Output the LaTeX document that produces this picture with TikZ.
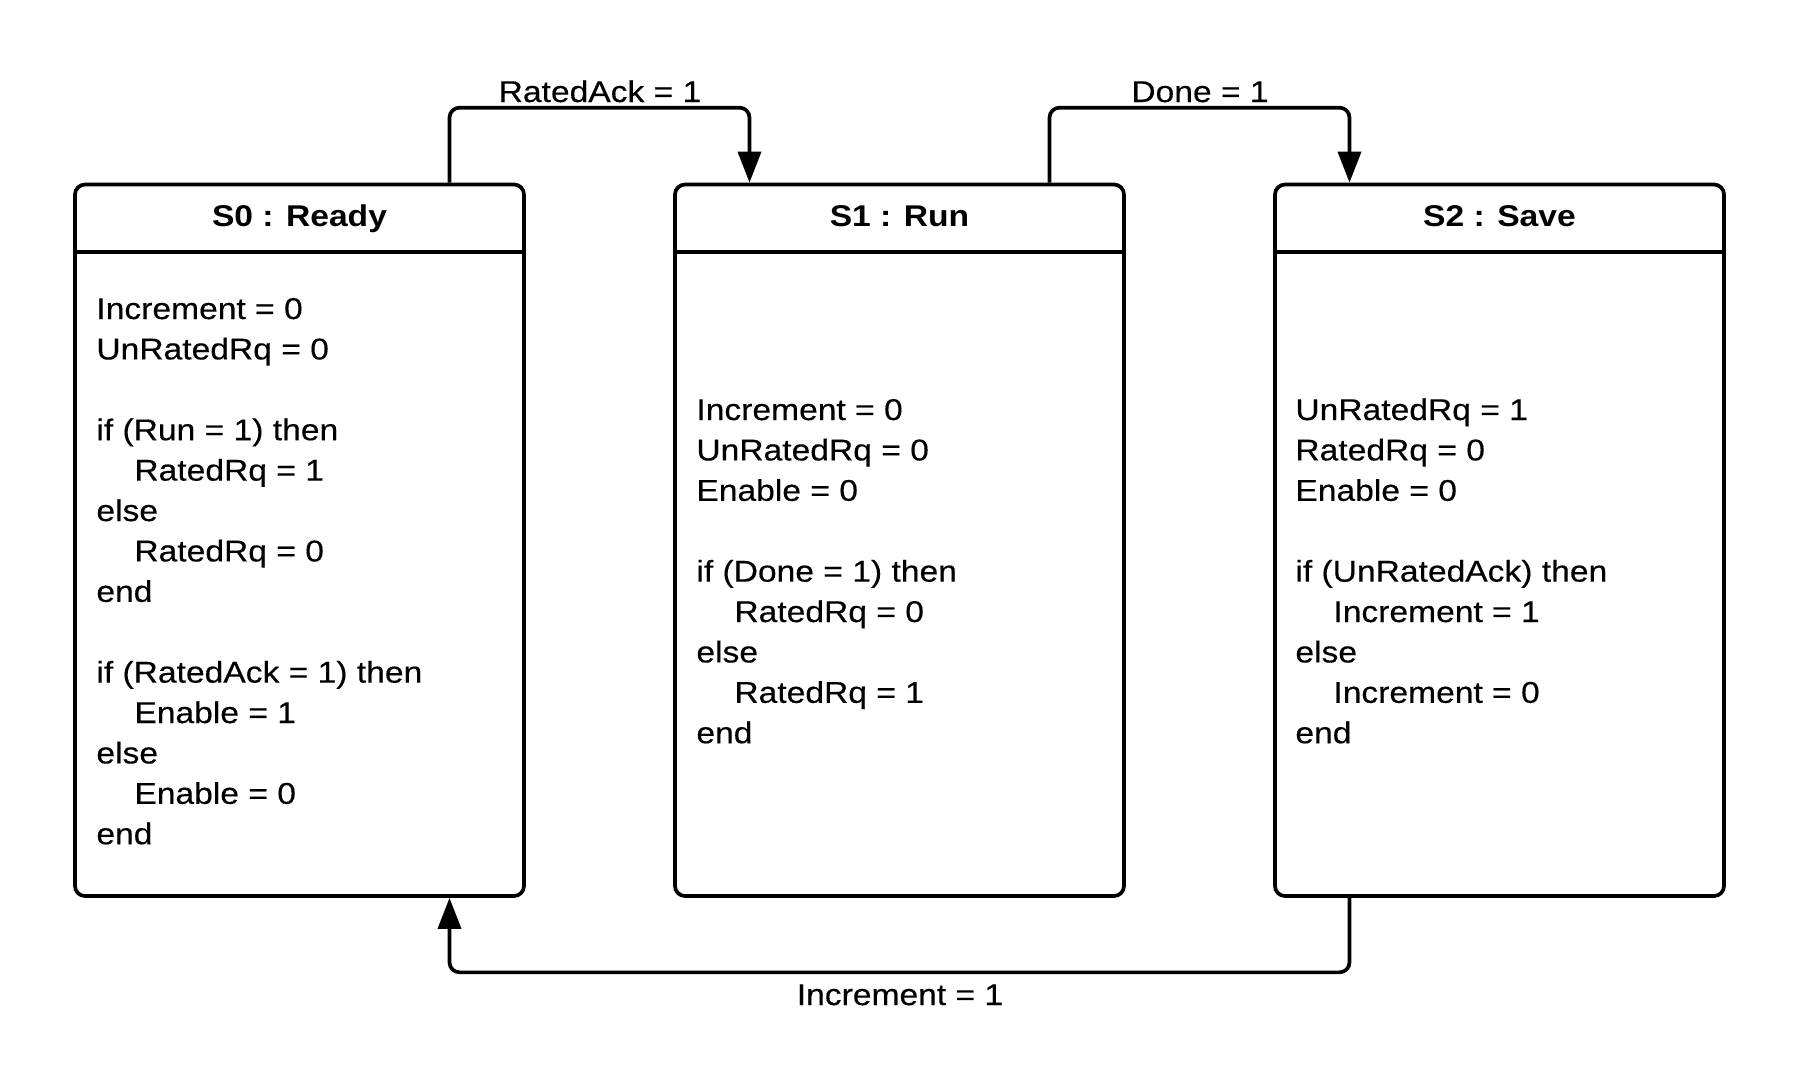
\documentclass[tikz,border=0pt]{standalone}
\usepackage{fontspec}
\setmainfont{Liberation Sans}[FakeStretch=1.12, UprightFeatures={FakeBold=0.35}]
\usetikzlibrary{arrows.meta}
\tikzset{
  statebox/.style={draw, line width=1.85pt, rounded corners=5pt, rectangle,
    minimum width=224.5pt, minimum height=355.75pt, inner sep=0pt},
  sep/.style={line width=1.85pt},
  ttl/.style={anchor=base, inner sep=0pt, font=\fontsize{15pt}{20.2pt}\selectfont\bfseries},
  body/.style={anchor=base west, inner sep=0pt, font=\fontsize{15pt}{20.2pt}\selectfont},
  lbl/.style={anchor=base, inner sep=0pt, font=\fontsize{15pt}{20.2pt}\selectfont},
  conn/.style={line width=1.85pt, rounded corners=5pt, -{Triangle[length=15.5pt,width=11.5pt]}}
}
\newcommand{\ind}{\hspace*{19pt}}
\begin{document}
\begin{tikzpicture}[x=0.5pt,y=-0.5pt]
\useasboundingbox (0,0) rectangle (1800,1082);
% states
\node[statebox] (s0) at (299.5,540.25) {};
\node[statebox] (s1) at (899.5,540.25) {};
\node[statebox] (s2) at (1499.5,540.25) {};
\foreach \s in {s0,s1,s2}{
  \draw[sep] ([yshift=-34.5pt]\s.north west) -- ([yshift=-34.5pt]\s.north east);
}
% titles
\node[ttl] (t0) at (299.5,226) {S0 : Ready};
\node[ttl] (t1) at (899.5,226) {S1 : Run};
\node[ttl] (t2) at (1499.5,226) {S2 : Save};
% bodies
\node[body] (b0) at (96,319) {\begin{tabular}[t]{@{}l@{}}
Increment = 0\\
UnRatedRq = 0\\
\\
if (Run = 1) then\\
\ind RatedRq = 1\\
else\\
\ind RatedRq = 0\\
end\\
\\
if (RatedAck = 1) then\\
\ind Enable = 1\\
else\\
\ind Enable = 0\\
end
\end{tabular}};
\node[body] (b1) at (696,420) {\begin{tabular}[t]{@{}l@{}}
Increment = 0\\
UnRatedRq = 0\\
Enable = 0\\
\\
if (Done = 1) then\\
\ind RatedRq = 0\\
else\\
\ind RatedRq = 1\\
end
\end{tabular}};
\node[body] (b2) at (1295,420) {\begin{tabular}[t]{@{}l@{}}
UnRatedRq = 1\\
RatedRq = 0\\
Enable = 0\\
\\
if (UnRatedAck) then\\
\ind Increment = 1\\
else\\
\ind Increment = 0\\
end
\end{tabular}};
% transitions
\draw[conn] ([xshift=75pt]s0.north) -- ++(0,-75) -| ([xshift=-75pt]s1.north);
\draw[conn] ([xshift=75pt]s1.north) -- ++(0,-75) -| ([xshift=-75pt]s2.north);
\draw[conn] ([xshift=-75pt]s2.south) -- ++(0,74.5) -| ([xshift=75pt]s0.south);
% labels
\node[lbl] (l1) at (600,102) {RatedAck = 1};
\node[lbl] (l2) at (1200,102) {Done = 1};
\node[lbl] (l3) at (900,1005) {Increment = 1};
\end{tikzpicture}
\end{document}
